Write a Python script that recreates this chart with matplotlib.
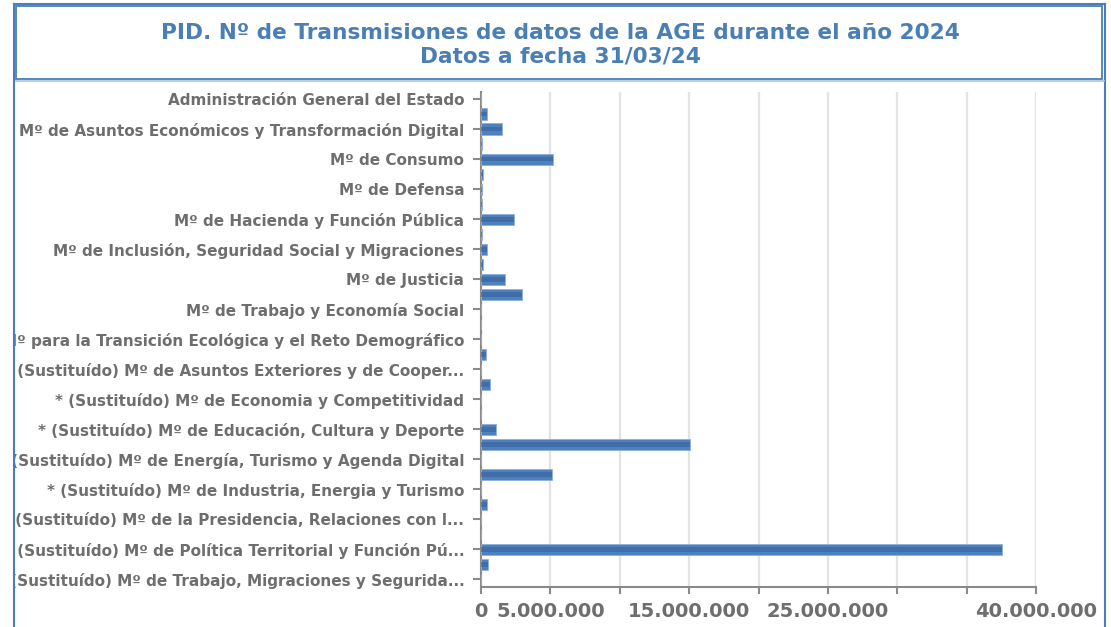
import matplotlib
matplotlib.use("Agg")
import matplotlib.pyplot as plt
from matplotlib.lines import Line2D
from matplotlib.patches import Rectangle
from matplotlib.transforms import Bbox, TransformedBbox
from matplotlib.ticker import FuncFormatter, MultipleLocator

plt.rcParams['font.family'] = ['DejaVu Sans']

# 33 categories, only every other one is labelled in the chart
labels = [
    "Administración General del Estado", "",
    "Mº de Asuntos Económicos y Transformación Digital", "",
    "Mº de Consumo", "",
    "Mº de Defensa", "",
    "Mº de Hacienda y Función Pública", "",
    "Mº de Inclusión, Seguridad Social y Migraciones", "",
    "Mº de Justicia", "",
    "Mº de Trabajo y Economía Social", "",
    "Mº para la Transición Ecológica y el Reto Demográfico", "",
    "* (Sustituído) Mº de Asuntos Exteriores y de Cooper...", "",
    "* (Sustituído) Mº de Economia y Competitividad", "",
    "* (Sustituído) Mº de Educación, Cultura y Deporte", "",
    "* (Sustituído) Mº de Energía, Turismo y Agenda Digital", "",
    "* (Sustituído) Mº de Industria, Energia y Turismo", "",
    "* (Sustituído) Mº de la Presidencia, Relaciones con l...", "",
    "* (Sustituído) Mº de Política Territorial y Función Pú...", "",
    "* (Sustituído) Mº de Trabajo, Migraciones y Segurida...",
]

values = [
    0, 460000, 1540000, 50000, 5170000, 120000, 100000, 50000, 2400000, 50000,
    410000, 120000, 1750000, 2980000, 30000, 30000, 0, 380000, 30000, 650000,
    30000, 30000, 1100000, 15060000, 20000, 5100000, 20000, 460000, 0, 20000,
    37530000, 480000, 20000,
]

shown_xticks = [0, 5000000, 15000000, 25000000, 40000000]

W, H = 1111, 627
fig = plt.figure(figsize=(W / 100, H / 100), dpi=100)
ax = fig.add_axes([481 / W, 1 - 587 / H, (1036 - 481) / W, (587 - 91.5) / H])

pos = list(range(len(values)))
ax.barh(pos, values, height=0.74, color='#4f81bd', edgecolor='#8fb0dc',
        linewidth=0.6, zorder=3)
ax.barh(pos, values, height=0.32, color='#35609c', alpha=0.55, linewidth=0,
        zorder=4)

ax.set_xlim(0, 40000000)
ax.set_ylim(len(values) - 0.5, -0.5)

ax.xaxis.set_major_locator(MultipleLocator(5000000))


def fmt(v, p):
    iv = int(round(v))
    if iv not in shown_xticks:
        return ""
    return f"{iv:,}".replace(",", ".")


ax.xaxis.set_major_formatter(FuncFormatter(fmt))
ax.grid(axis='x', color='#e3e3e3', linewidth=1.6, zorder=0)
ax.set_axisbelow(True)

label_pos = [i for i, l in enumerate(labels) if l]
ax.set_yticks(label_pos)
ax.set_yticklabels([labels[i] for i in label_pos])

for s in ['top', 'right']:
    ax.spines[s].set_visible(False)
for s in ['left', 'bottom']:
    ax.spines[s].set_color('#8a8a8a')
    ax.spines[s].set_linewidth(1.5)

ax.tick_params(axis='y', length=6, width=1.5, color='#8a8a8a', pad=6,
               labelsize=11, labelcolor='#6e6e6e')
ax.tick_params(axis='x', length=5, width=1.5, color='#8a8a8a', pad=6,
               labelsize=14, labelcolor='#6e6e6e')
for t in ax.get_yticklabels() + ax.get_xticklabels():
    t.set_fontweight('bold')

# the reference clips long category names at the chart's left frame
clip = TransformedBbox(Bbox([[15 / W, 0], [1, 1]]), fig.transFigure)
for t in ax.get_yticklabels():
    t.set_clip_on(True)
    t.set_clip_box(clip)

frame_c = '#4a7ebb'
# outer frame
fig.add_artist(Line2D([13.5 / W, 13.5 / W], [0, 1 - 4 / H], color=frame_c,
                      lw=1.5, transform=fig.transFigure))
fig.add_artist(Line2D([1105 / W, 1105 / W], [0, 1 - 4 / H], color=frame_c,
                      lw=1.5, transform=fig.transFigure))
fig.add_artist(Line2D([13.5 / W, 1105 / W], [1 - 4 / H, 1 - 4 / H],
                      color=frame_c, lw=1.5, transform=fig.transFigure))
# title box
fig.add_artist(Rectangle((15.5 / W, 1 - 79 / H), (1102 - 15.5) / W,
                         (79 - 6) / H, fill=False, edgecolor=frame_c, lw=1.3,
                         transform=fig.transFigure))
fig.add_artist(Line2D([15.5 / W, 1104 / W], [1 - 80.5 / H, 1 - 80.5 / H],
                      color='#a9c4e4', lw=1.2, transform=fig.transFigure))

fig.text(560 / W, 1 - 44.5 / H,
         "PID. Nº de Transmisiones de datos de la AGE durante el año 2024\n"
         "Datos a fecha 31/03/24",
         ha='center', va='center', fontsize=15.6, fontweight='bold',
         color='#4a7fb5', linespacing=1.2)

fig.savefig("out.png", dpi=100)
